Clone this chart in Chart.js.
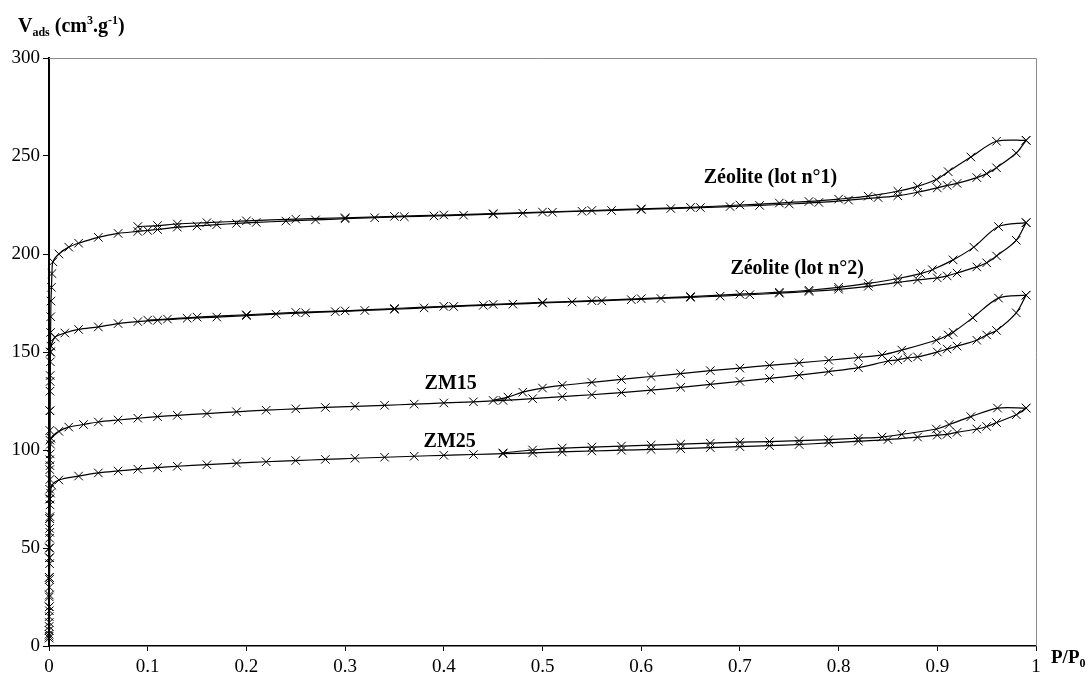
<!DOCTYPE html>
<html>
<head>
<meta charset="utf-8">
<script src="https://cdn.jsdelivr.net/npm/chart.js@4/dist/chart.umd.min.js"></script>
<style>
  html, body { margin: 0; padding: 0; background: #fff; }
  #wrap { width: 1090px; height: 681px; position: relative; }
</style>
</head>
<body>
<div id="wrap"><canvas id="isoChart"></canvas></div>
<script>
// Isothermes d'adsorption N2 - branche adsorption (ads) et désorption (des)
// Zéolite (lot n°1)
const lot1AdsP = [0.0001, 0.0002, 0.0003, 0.0004, 0.0005, 0.0006, 0.0007, 0.0008, 0.0009, 0.001, 0.0012, 0.0014, 0.0016, 0.0018, 0.002, 0.0025, 0.003,
  0.004, 0.01, 0.02, 0.03, 0.05, 0.07, 0.09, 0.1, 0.11, 0.13, 0.15, 0.17, 0.19, 0.21, 0.24, 0.27, 0.3, 0.33, 0.36, 0.39, 0.42, 0.45, 0.48,
  0.51, 0.54, 0.57, 0.6, 0.63, 0.66, 0.69, 0.72, 0.75, 0.78, 0.81, 0.84, 0.86, 0.88, 0.9, 0.91, 0.92, 0.94, 0.95, 0.96, 0.98, 0.99];
const lot1AdsV = [5, 12, 20, 30, 45, 60, 75, 90, 105, 120, 135, 150, 160, 168, 176, 183, 190,
  196, 200, 203.5, 205.5, 208.5, 210.5, 211.5, 212, 212.5, 213.7, 214.3, 215, 215.6, 216.1, 216.8, 217.4, 218, 218.5, 219, 219.4, 219.8, 220.3, 220.8,
  221.3, 221.8, 222.2, 222.7, 223.2, 223.7, 224.2, 224.8, 225.5, 226.3, 227.5, 228.8, 229.7, 231.5, 233.7, 235, 236, 239, 241, 244, 251.5, 258];
const lot1DesP = [0.99, 0.96, 0.934, 0.911, 0.899, 0.88, 0.86, 0.83, 0.8, 0.77, 0.74, 0.7, 0.65, 0.6, 0.55, 0.5, 0.45, 0.4, 0.35, 0.3, 0.25, 0.2, 0.16, 0.13, 0.11, 0.09];
const lot1DesV = [258, 257.5, 249.5, 242, 238, 234.5, 232, 229.5, 228, 226.8, 226, 225, 223.8, 223, 222.2, 221.4, 220.6, 219.9, 219.2, 218.5, 217.8, 216.9, 216, 215.3, 214.5, 214];

// Zéolite (lot n°2)
const lot2AdsP = [0.0001, 0.0002, 0.0003, 0.0004, 0.0005, 0.0006, 0.0007, 0.0008, 0.0009, 0.001, 0.0012, 0.0014, 0.0016, 0.002,
  0.006, 0.016, 0.03, 0.05, 0.07, 0.09, 0.11, 0.14, 0.17, 0.2, 0.23, 0.26, 0.29, 0.32, 0.35, 0.38, 0.41, 0.44, 0.47, 0.5,
  0.53, 0.56, 0.59, 0.62, 0.65, 0.68, 0.71, 0.74, 0.77, 0.8, 0.83, 0.86, 0.88, 0.9, 0.91, 0.92, 0.94, 0.95, 0.96, 0.98, 0.99];
const lot2AdsV = [8, 20, 35, 50, 65, 80, 95, 110, 120, 130, 138, 145, 150, 153,
  157.5, 159.7, 161.5, 162.8, 164.5, 165.5, 166.2, 167.2, 167.8, 168.6, 169.3, 170, 170.6, 171.2, 171.8, 172.5, 173.2, 173.8, 174.4, 175,
  175.5, 176.1, 176.7, 177.3, 177.9, 178.5, 179.2, 180, 180.9, 182, 183.5, 185.5, 186.8, 187.8, 188.8, 190.3, 193.4, 195.5, 199, 207, 216];
const lot2DesP = [0.99, 0.962, 0.937, 0.916, 0.895, 0.883, 0.86, 0.83, 0.8, 0.77, 0.74, 0.7, 0.65, 0.6, 0.55, 0.5, 0.45, 0.4, 0.35, 0.3, 0.25, 0.2, 0.15, 0.12, 0.1];
const lot2DesV = [216, 214, 203.5, 197, 192, 190, 187.5, 185, 183, 181.5, 180.5, 179.5, 178.3, 177.2, 176.2, 175.3, 174.3, 173.3, 172.2, 171, 170.2, 169, 167.8, 166.8, 166.3];

// ZM15
const zm15AdsP = [0.0001, 0.0002, 0.0003, 0.0004, 0.0005, 0.0006, 0.0007, 0.0008, 0.0009, 0.001, 0.0012, 0.0015,
  0.002, 0.01, 0.02, 0.035, 0.05, 0.07, 0.09, 0.11, 0.13, 0.16, 0.19, 0.22, 0.25, 0.28, 0.31, 0.34, 0.37, 0.4, 0.43, 0.46, 0.49,
  0.52, 0.55, 0.58, 0.61, 0.64, 0.67, 0.7, 0.73, 0.76, 0.79, 0.82, 0.85, 0.86, 0.87, 0.88, 0.9, 0.91, 0.92, 0.94, 0.95, 0.96, 0.98, 0.99];
const zm15AdsV = [6, 15, 25, 35, 45, 55, 65, 75, 85, 92, 98, 103,
  106, 109.5, 111.7, 113, 114.3, 115.3, 116.2, 117, 117.7, 118.6, 119.5, 120.3, 121, 121.7, 122.3, 122.8, 123.4, 124, 124.6, 125.3, 126.2,
  127.2, 128.2, 129.3, 130.5, 132, 133.5, 135, 136.5, 138.2, 140, 142, 145.4, 146, 147, 147.5, 150, 151.5, 153, 156, 158.7, 161, 170, 179];
const zm15DesP = [0.99, 0.962, 0.936, 0.916, 0.911, 0.899, 0.864, 0.844, 0.82, 0.79, 0.76, 0.73, 0.7, 0.67, 0.64, 0.61, 0.58, 0.55, 0.52, 0.5, 0.48, 0.465, 0.45];
const zm15DesV = [179, 177.5, 167.5, 160, 158.7, 156, 151, 148.5, 147.2, 145.8, 144.5, 143.2, 141.8, 140.5, 139, 137.5, 136, 134.5, 133, 131.6, 129.5, 127, 125.3];

// ZM25
const zm25AdsP = [0.0001, 0.0002, 0.0003, 0.0004, 0.0005, 0.0006, 0.0007, 0.0008, 0.0009, 0.001, 0.0015,
  0.003, 0.01, 0.03, 0.05, 0.07, 0.09, 0.11, 0.13, 0.16, 0.19, 0.22, 0.25, 0.28, 0.31, 0.34, 0.37, 0.4, 0.43, 0.46, 0.49,
  0.52, 0.55, 0.58, 0.61, 0.64, 0.67, 0.7, 0.73, 0.76, 0.79, 0.82, 0.85, 0.88, 0.9, 0.91, 0.92, 0.94, 0.95, 0.96, 0.98, 0.99];
const zm25AdsV = [4, 10, 18, 26, 34, 42, 50, 58, 66, 72, 78,
  82, 84.7, 86.7, 88.3, 89.3, 90.2, 91, 91.7, 92.5, 93.3, 94, 94.6, 95.2, 95.8, 96.3, 96.8, 97.3, 97.7, 98.1, 98.5,
  99, 99.5, 99.9, 100.3, 100.7, 101.2, 101.7, 102.2, 102.8, 103.6, 104.5, 105.3, 106.6, 107.6, 108, 109, 110.7, 112, 114, 118, 121.4];
const zm25DesP = [0.99, 0.961, 0.934, 0.912, 0.899, 0.864, 0.844, 0.82, 0.79, 0.76, 0.73, 0.7, 0.67, 0.64, 0.61, 0.58, 0.55, 0.52, 0.49, 0.46];
const zm25DesV = [121.4, 121.4, 117, 113, 110.7, 108, 106.6, 106, 105.3, 104.8, 104.3, 104, 103.5, 103, 102.5, 102, 101.5, 101, 100, 98.5];

const xTicks = [0, 0.1, 0.2, 0.3, 0.4, 0.5, 0.6, 0.7, 0.8, 0.9, 1];
const yTicks = [0, 50, 100, 150, 200, 250, 300];

const seriesLabels = ['Zéolite (lot n°1)', 'Zéolite (lot n°2)', 'ZM15', 'ZM25'];

function toPoints(px, py) {
    return px.map((p, i) => ({ x: p, y: py[i] }));
}

function branch(label, px, py) {
    return {
        label: label,
        data: toPoints(px, py),
        borderColor: '#000',
        borderWidth: 1.2,
        backgroundColor: '#000',
        pointStyle: 'crossRot',
        pointRadius: 6,
        pointBorderWidth: 1,
        pointBorderColor: '#000',
        tension: 0.3,
        fill: false,
        clip: false
    };
}

const serif = '"Liberation Serif", "DejaVu Serif", serif';

// text drawn on top: series names, axis titles, top/right frame
const annotations = {
    id: 'annotations',
    afterDraw(chart) {
        const { ctx, chartArea, scales } = chart;
        ctx.save();

        // grey frame top + right
        ctx.strokeStyle = '#8c8c8c';
        ctx.lineWidth = 1;
        ctx.beginPath();
        ctx.moveTo(chartArea.left, chartArea.top + 0.5);
        ctx.lineTo(chartArea.right + 0.5, chartArea.top + 0.5);
        ctx.lineTo(chartArea.right + 0.5, chartArea.bottom);
        ctx.stroke();

        ctx.fillStyle = '#000';
        ctx.textBaseline = 'alphabetic';
        ctx.textAlign = 'center';
        ctx.font = 'bold 20px ' + serif;
        const spots = [[0.731, 236], [0.758, 190], [0.407, 131], [0.406, 101.5]];
        seriesLabels.forEach((txt, i) => {
            ctx.fillText(txt, scales.x.getPixelForValue(spots[i][0]), scales.y.getPixelForValue(spots[i][1]));
        });

        // y axis title: V_ads (cm^3.g^-1)
        ctx.textAlign = 'left';
        let x = 18;
        const base = 32;
        const parts = [
            ['V', 20, 0], ['ads', 12, 4], [' (cm', 20, 0], ['3', 12, -8], ['.g', 20, 0], ['-1', 12, -8], [')', 20, 0]
        ];
        parts.forEach(([t, size, dy]) => {
            ctx.font = 'bold ' + size + 'px ' + serif;
            ctx.fillText(t, x, base + dy);
            x += ctx.measureText(t).width;
        });

        // x axis title: P/P0
        x = 1051;
        [['P/P', 19, 0], ['0', 12, 4]].forEach(([t, size, dy]) => {
            ctx.font = 'bold ' + size + 'px ' + serif;
            ctx.fillText(t, x, 663 + dy);
            x += ctx.measureText(t).width;
        });

        ctx.restore();
    }
};

new Chart(document.getElementById('isoChart'), {
    type: 'line',
    data: {
        datasets: [
            branch('lot1 ads', lot1AdsP, lot1AdsV),
            branch('lot1 des', lot1DesP, lot1DesV),
            branch('lot2 ads', lot2AdsP, lot2AdsV),
            branch('lot2 des', lot2DesP, lot2DesV),
            branch('ZM15 ads', zm15AdsP, zm15AdsV),
            branch('ZM15 des', zm15DesP, zm15DesV),
            branch('ZM25 ads', zm25AdsP, zm25AdsV),
            branch('ZM25 des', zm25DesP, zm25DesV)
        ]
    },
    options: {
        responsive: true,
        maintainAspectRatio: false,
        animation: false,
        layout: { padding: { top: 58, right: 54, left: 0, bottom: 0 } },
        plugins: {
            legend: { display: false },
            tooltip: { enabled: false }
        },
        scales: {
            x: {
                type: 'linear',
                min: 0,
                max: 1,
                afterBuildTicks: (scale) => { scale.ticks = xTicks.map(v => ({ value: v })); },
                afterFit: (scale) => { scale.height = 35; },
                border: { color: '#000', width: 1.5 },
                grid: { drawOnChartArea: false, color: '#000', tickLength: 5 },
                ticks: {
                    color: '#000',
                    padding: 5,
                    maxRotation: 0,
                    font: { family: serif, size: 19 },
                    callback: (v) => String(Math.round(v * 10) / 10)
                }
            },
            y: {
                type: 'linear',
                min: 0,
                max: 300,
                afterBuildTicks: (scale) => { scale.ticks = yTicks.map(v => ({ value: v })); },
                afterFit: (scale) => { scale.width = 49; },
                border: { color: '#000', width: 2 },
                grid: { drawOnChartArea: false, color: '#000', tickLength: 6 },
                ticks: {
                    color: '#000',
                    padding: 3,
                    font: { family: serif, size: 19 }
                }
            }
        }
    },
    plugins: [annotations]
});
</script>
</body>
</html>
